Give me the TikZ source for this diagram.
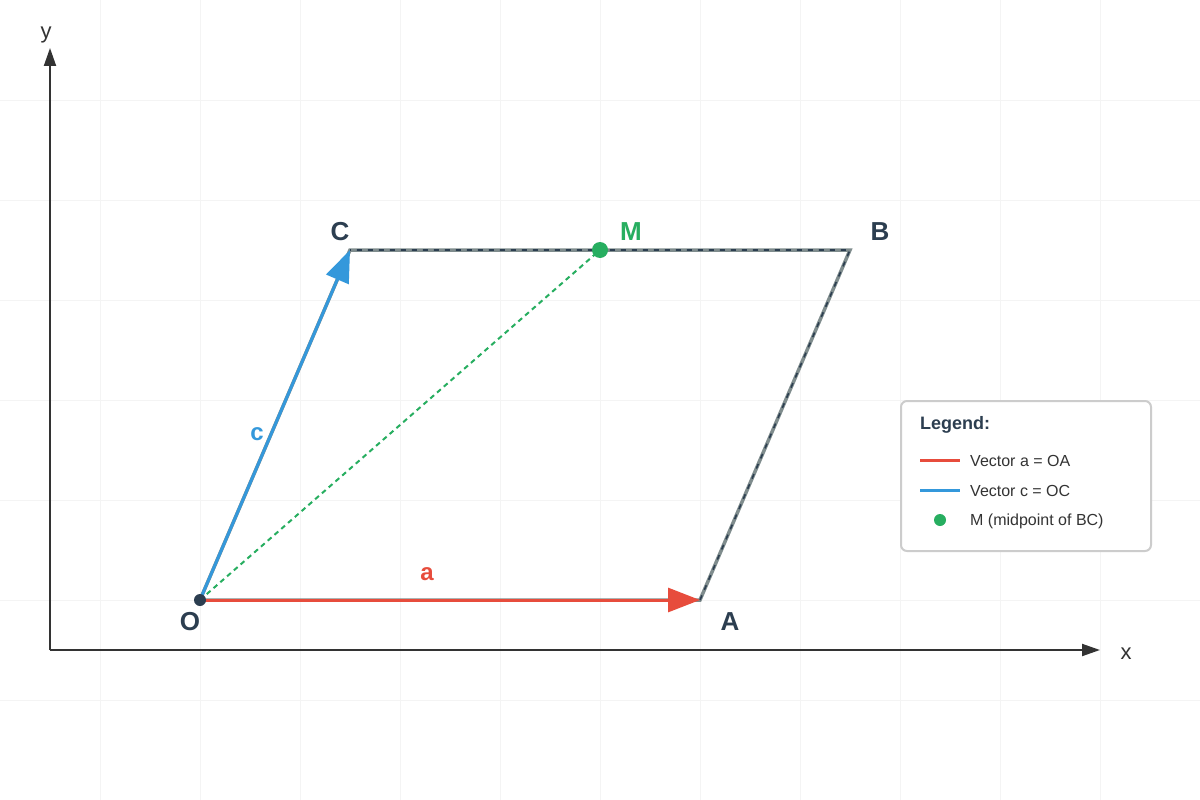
\documentclass[tikz,border=0pt]{standalone}
\usepackage{fontspec}
\setmainfont{Liberation Sans}
\usetikzlibrary{arrows.meta}
\definecolor{cred}{HTML}{E74C3C}
\definecolor{cblue}{HTML}{3498DB}
\definecolor{cgreen}{HTML}{27AE60}
\definecolor{cdark}{HTML}{2C3E50}
\definecolor{caxis}{HTML}{333333}
\definecolor{cgrid}{HTML}{F4F4F4}
\definecolor{cgray}{HTML}{7F8C8D}
\definecolor{cborder}{HTML}{CCCCCC}
\tikzset{
  gridline/.style={draw=cgrid, line width=1pt},
  axisline/.style={draw=caxis, line width=2pt, -{Triangle[length=18pt,width=12pt]}},
  vecred/.style={draw=cred, line width=3pt, -{Triangle[length=32pt,width=24pt]}},
  vecblue/.style={draw=cblue, line width=3pt, -{Triangle[length=32pt,width=24pt]}},
  sidebase/.style={draw=cgray, line width=3.5pt},
  sidedash/.style={draw=cdark, line width=1.6pt, dash pattern=on 5pt off 6pt},
  diag/.style={draw=cgreen, line width=2pt, dash pattern=on 5pt off 4pt},
  ptlabel/.style={font=\fontsize{26}{30}\selectfont\bfseries, text=cdark, inner sep=0pt},
  veclabel/.style={font=\fontsize{24}{28}\selectfont\bfseries, inner sep=0pt},
  axlabel/.style={font=\fontsize{22}{26}\selectfont, text=caxis, inner sep=0pt},
  legtext/.style={font=\fontsize{16}{20}\selectfont, text=caxis, anchor=west, inner sep=0pt},
}
\begin{document}
\begin{tikzpicture}[x=1pt,y=-1pt]
\useasboundingbox[fill=white] (0,0) rectangle (1200,800);
% grid
\foreach \gx in {100,200,...,1100} { \draw[gridline] (\gx,0) -- (\gx,800); }
\foreach \gy in {100,200,...,700} { \draw[gridline] (0,\gy) -- (1200,\gy); }
% points
\coordinate (orig) at (50,650);
\coordinate (ytip) at (50,48);
\coordinate (xtip) at (1100,650);
\coordinate (O) at (200,600);
\coordinate (A) at (700,600);
\coordinate (B) at (850,250);
\coordinate (C) at (350,250);
\coordinate (M) at (600,250);
% axes
\draw[axisline] (orig) -- (ytip);
\draw[axisline] (orig) -- (xtip);
\node[axlabel] (ylab) at (46,35) {y};
\node[axlabel] (xlab) at (1126,654) {x};
% parallelogram
\draw[sidebase, line join=miter] (O) -- (A) -- (B) -- (C) -- cycle;
\draw[sidedash] (A) -- (B) -- (C);
% diagonal O-M
\draw[diag] (O) -- (M);
% vectors
\draw[vecred] (O) -- (A);
\draw[vecblue] (O) -- (C);
% dots
\fill[cdark] (O) circle (6pt);
\fill[cgreen] (M) circle (8pt);
% labels
\node[ptlabel] (Olab) at (190,622) {O};
\node[ptlabel] (Alab) at (730,622) {A};
\node[ptlabel] (Blab) at (880,232) {B};
\node[ptlabel] (Clab) at (340,232) {C};
\node[ptlabel, text=cgreen] (Mlab) at (631,232) {M};
\node[veclabel, text=cred] (alab) at (427,574) {a};
\node[veclabel, text=cblue] (clab) at (257,434) {c};
% legend
\node[draw=cborder, line width=2pt, rounded corners=6pt, fill=white, minimum width=250pt, minimum height=150pt, anchor=north west, inner sep=0pt] (legend) at (900,400) {};
\node[font=\fontsize{18}{22}\selectfont\bfseries, text=cdark, anchor=west, inner sep=0pt] (legtitle) at (920,425) {Legend:};
\coordinate (r1) at (920,460); \coordinate (r2) at (960,460);
\coordinate (b1) at (920,490); \coordinate (b2) at (960,490);
\coordinate (gd) at (940,520);
\draw[draw=cred, line width=3pt] (r1) -- (r2);
\draw[draw=cblue, line width=3pt] (b1) -- (b2);
\fill[cgreen] (gd) circle (6pt);
\node[legtext] (lt1) at (970,461) {Vector a = OA};
\node[legtext] (lt2) at (970,491) {Vector c = OC};
\node[legtext] (lt3) at (970,521) {M (midpoint of BC)};
\end{tikzpicture}
\end{document}
